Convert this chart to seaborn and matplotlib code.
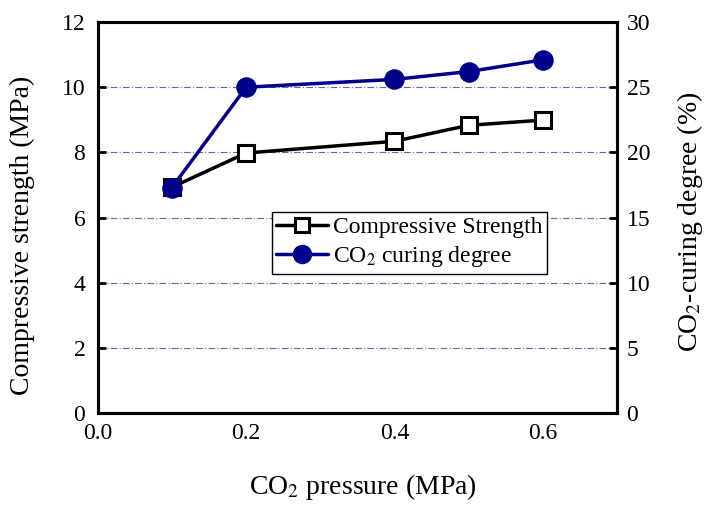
import matplotlib
matplotlib.use("Agg")
import matplotlib.pyplot as plt
from matplotlib.lines import Line2D
import seaborn as sns
import pandas as pd

pressure = [0.1, 0.2, 0.4, 0.5, 0.6]
strength = [6.93, 7.98, 8.34, 8.83, 8.99]
curing_degree = [17.3, 25.0, 25.6, 26.2, 27.1]

df = pd.DataFrame({"pressure": pressure, "strength": strength, "curing": curing_degree})

sns.set_style("white")
plt.rcParams["font.family"] = ["Liberation Serif", "DejaVu Serif"]
plt.rcParams["mathtext.fontset"] = "stix"
plt.rcParams["text.color"] = "black"
plt.rcParams["axes.labelcolor"] = "black"
plt.rcParams["xtick.color"] = "black"
plt.rcParams["ytick.color"] = "black"

fig = plt.figure(figsize=(7.19, 5.13), dpi=100)
ax = fig.add_axes([0.136, 0.195, 0.722, 0.762])
ax2 = ax.twinx()

navy = "#00008B"

# horizontal reference lines
for yv in [2, 4, 6, 8, 10]:
    ax.axhline(yv, color="#6666AA", lw=0.8, ls=(0, (6, 2, 1, 2)), zorder=0)

sns.lineplot(data=df, x="pressure", y="strength", ax=ax, color="black", lw=2.5,
             marker="s", markersize=11, markerfacecolor="white",
             markeredgecolor="black", markeredgewidth=2.2, zorder=3)
sns.lineplot(data=df, x="pressure", y="curing", ax=ax2, color=navy, lw=2.5,
             marker="o", markersize=14, markerfacecolor=navy,
             markeredgecolor=navy, zorder=4)

ax.set_xlim(0.0, 0.7)
ax.set_ylim(0, 12)
ax2.set_ylim(0, 30)
ax.set_xticks([0.0, 0.2, 0.4, 0.6])
ax.set_xticklabels(["0.0", "0.2", "0.4", "0.6"])
ax.set_xticks([0.1, 0.3, 0.5], minor=True)
ax.set_yticks([0, 2, 4, 6, 8, 10, 12])
ax2.set_yticks([0, 5, 10, 15, 20, 25, 30])

ax.set_xlabel("CO$_2$ pressure (MPa)", fontsize=20)
ax.set_ylabel("Compressive strength (MPa)", fontsize=20)
ax2.set_ylabel("CO$_2$-curing degree (%)", fontsize=20)
ax.xaxis.set_label_coords(0.51, -0.15)
ax.yaxis.set_label_coords(-0.12, 0.455)
ax2.yaxis.set_label_coords(1.112, 0.49)

for a in (ax, ax2):
    a.tick_params(axis="both", which="major", direction="in", length=6, width=2,
                  labelsize=17)
    a.tick_params(axis="both", which="minor", direction="in", length=4, width=2)
    for s in a.spines.values():
        s.set_linewidth(2.2)
        s.set_color("black")
ax.tick_params(axis="x", pad=7)
ax.tick_params(axis="y", pad=9)
ax2.tick_params(axis="y", pad=7)

ax.set_zorder(ax2.get_zorder() - 1)
ax2.patch.set_visible(False)

handles = [
    Line2D([], [], color="black", lw=2.5, marker="s", markersize=10,
           markerfacecolor="white", markeredgecolor="black", markeredgewidth=2.2),
    Line2D([], [], color=navy, lw=2.5, marker="o", markersize=13,
           markerfacecolor=navy, markeredgecolor=navy),
]
ax2.legend(handles, ["Compressive Strength", "CO$_2$ curing degree"],
           loc="upper left", bbox_to_anchor=(0.335, 0.515), fontsize=17,
           frameon=True, fancybox=False, edgecolor="black", framealpha=1,
           handlelength=2.2, handletextpad=0.2, borderpad=0.2, labelspacing=0.25,
           borderaxespad=0)

fig.savefig("out.png", dpi=100)
